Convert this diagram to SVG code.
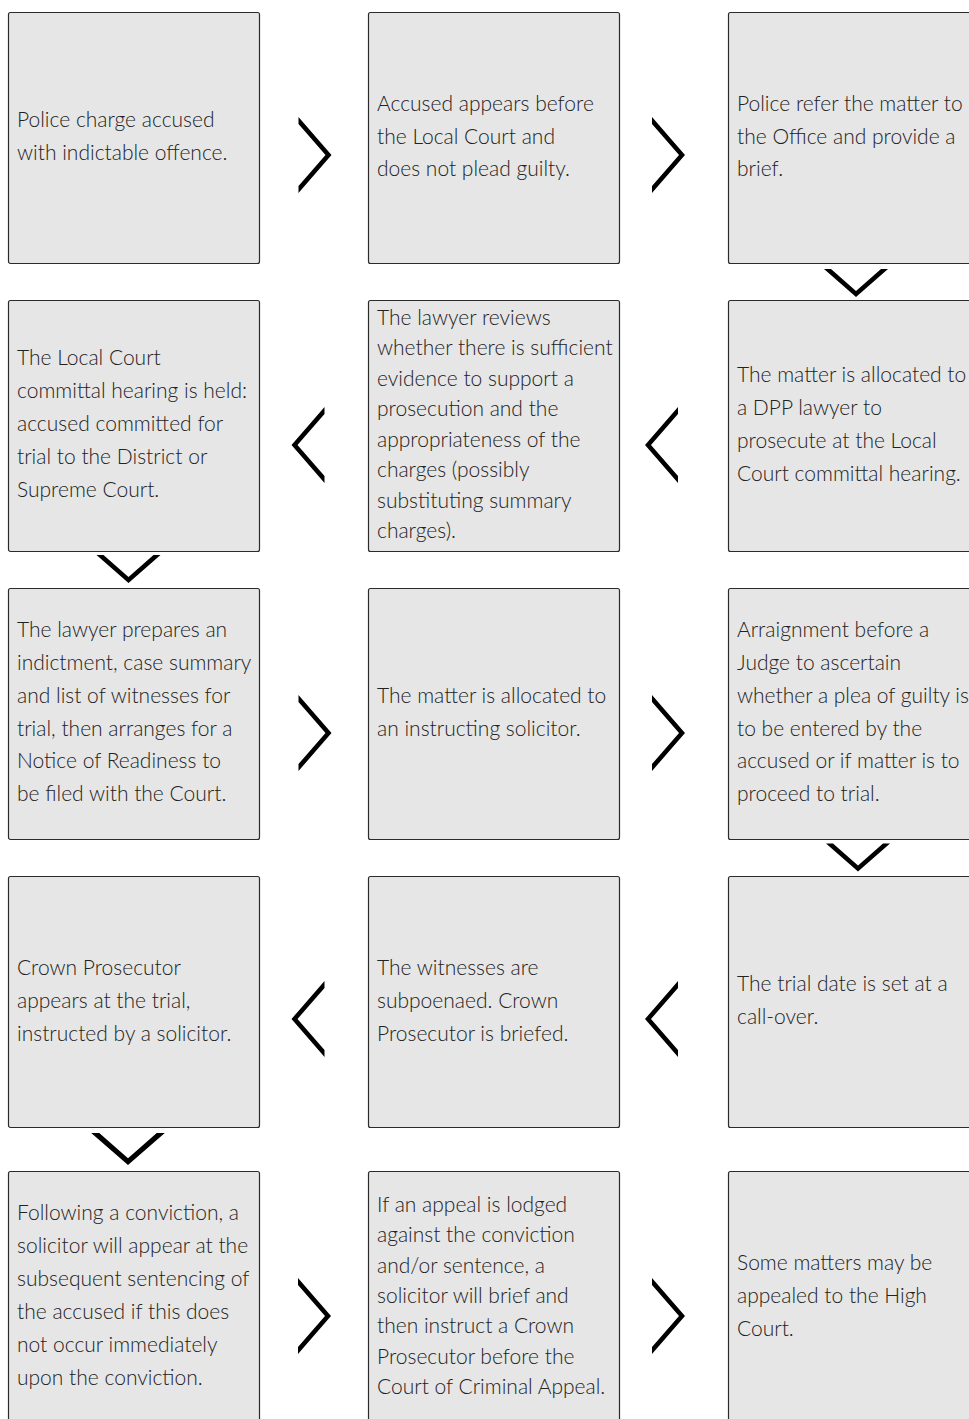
<svg xmlns="http://www.w3.org/2000/svg" width="969" height="1419" viewBox="0 0 969 1419">
<style>
.box{fill:#e6e6e6;stroke:#2b2b2b;stroke-width:1.2}
.t{font-family:Lato,"Open Sans","Liberation Sans",sans-serif;font-weight:300;font-size:21px;fill:#222}
.chev{fill:#000}
</style>
<defs>
<polygon id="right" points="-16,-38 17,0 -16,38 -16,31 11,0 -16,-31"/>
<polygon id="left" points="16,-38 -17,0 16,38 16,31 -11,0 16,-31"/>
<polygon id="down" points="-32,-14 -25,-14 0,8 25,-14 32,-14 0,14"/>
</defs>
<rect width="969" height="1419" fill="#fff"/>
<g id="n1"><rect class="box" x="8.5" y="12.5" width="251" height="251" rx="2"/>
<text class="t" x="17"><tspan x="17" y="127">Police charge accused</tspan><tspan x="17" y="160">with indictable offence.</tspan></text></g>
<g id="n2"><rect class="box" x="368.5" y="12.5" width="251" height="251" rx="2"/>
<text class="t"><tspan x="377" y="111">Accused appears before</tspan><tspan x="377" y="144">the Local Court and</tspan><tspan x="377" y="176">does not plead guilty.</tspan></text></g>
<g id="n3"><rect class="box" x="728.5" y="12.5" width="251" height="251" rx="2"/>
<text class="t"><tspan x="737" y="111">Police refer the matter to</tspan><tspan x="737" y="144">the Office and provide a</tspan><tspan x="737" y="176">brief.</tspan></text></g>
<g id="n4"><rect class="box" x="728.5" y="300.5" width="251" height="251" rx="2"/>
<text class="t"><tspan x="737" y="381.5">The matter is allocated to</tspan><tspan x="737" y="414.5">a DPP lawyer to</tspan><tspan x="737" y="447.5">prosecute at the Local</tspan><tspan x="737" y="480.5">Court committal hearing.</tspan></text></g>
<g id="n5"><rect class="box" x="368.5" y="300.5" width="251" height="251" rx="2"/>
<text class="t"><tspan x="377" y="324.5">The lawyer reviews</tspan><tspan x="377" y="355">whether there is sufficient</tspan><tspan x="377" y="385.5">evidence to support a</tspan><tspan x="377" y="416">prosecution and the</tspan><tspan x="377" y="446.5">appropriateness of the</tspan><tspan x="377" y="477">charges (possibly</tspan><tspan x="377" y="507.5">substituting summary</tspan><tspan x="377" y="538">charges).</tspan></text></g>
<g id="n6"><rect class="box" x="8.5" y="300.5" width="251" height="251" rx="2"/>
<text class="t"><tspan x="17" y="365">The Local Court</tspan><tspan x="17" y="398">committal hearing is held:</tspan><tspan x="17" y="431">accused committed for</tspan><tspan x="17" y="464">trial to the District or</tspan><tspan x="17" y="497">Supreme Court.</tspan></text></g>
<g id="n7"><rect class="box" x="8.5" y="588.5" width="251" height="251" rx="2"/>
<text class="t"><tspan x="17" y="637">The lawyer prepares an</tspan><tspan x="17" y="670">indictment, case summary</tspan><tspan x="17" y="702.5">and list of witnesses for</tspan><tspan x="17" y="735.5">trial, then arranges for a</tspan><tspan x="17" y="768">Notice of Readiness to</tspan><tspan x="17" y="801">be filed with the Court.</tspan></text></g>
<g id="n8"><rect class="box" x="368.5" y="588.5" width="251" height="251" rx="2"/>
<text class="t"><tspan x="377" y="702.5">The matter is allocated to</tspan><tspan x="377" y="735.5">an instructing solicitor.</tspan></text></g>
<g id="n9"><rect class="box" x="728.5" y="588.5" width="251" height="251" rx="2"/>
<text class="t"><tspan x="737" y="637">Arraignment before a</tspan><tspan x="737" y="670">Judge to ascertain</tspan><tspan x="737" y="702.5">whether a plea of guilty is</tspan><tspan x="737" y="735.5">to be entered by the</tspan><tspan x="737" y="768">accused or if matter is to</tspan><tspan x="737" y="801">proceed to trial.</tspan></text></g>
<g id="n10"><rect class="box" x="728.5" y="876.5" width="251" height="251" rx="2"/>
<text class="t"><tspan x="737" y="991">The trial date is set at a</tspan><tspan x="737" y="1024">call-over.</tspan></text></g>
<g id="n11"><rect class="box" x="368.5" y="876.5" width="251" height="251" rx="2"/>
<text class="t"><tspan x="377" y="975">The witnesses are</tspan><tspan x="377" y="1008">subpoenaed. Crown</tspan><tspan x="377" y="1041">Prosecutor is briefed.</tspan></text></g>
<g id="n12"><rect class="box" x="8.5" y="876.5" width="251" height="251" rx="2"/>
<text class="t"><tspan x="17" y="975">Crown Prosecutor</tspan><tspan x="17" y="1008">appears at the trial,</tspan><tspan x="17" y="1041">instructed by a solicitor.</tspan></text></g>
<g id="n13"><rect class="box" x="8.5" y="1171.5" width="251" height="251" rx="2"/>
<text class="t"><tspan x="17" y="1220">Following a conviction, a</tspan><tspan x="17" y="1253">solicitor will appear at the</tspan><tspan x="17" y="1286">subsequent sentencing of</tspan><tspan x="17" y="1319">the accused if this does</tspan><tspan x="17" y="1352">not occur immediately</tspan><tspan x="17" y="1385">upon the conviction.</tspan></text></g>
<g id="n14"><rect class="box" x="368.5" y="1171.5" width="251" height="251" rx="2"/>
<text class="t"><tspan x="377" y="1212">If an appeal is lodged</tspan><tspan x="377" y="1242.3">against the conviction</tspan><tspan x="377" y="1272.6">and/or sentence, a</tspan><tspan x="377" y="1302.9">solicitor will brief and</tspan><tspan x="377" y="1333.2">then instruct a Crown</tspan><tspan x="377" y="1363.5">Prosecutor before the</tspan><tspan x="377" y="1393.8">Court of Criminal Appeal.</tspan></text></g>
<g id="n15"><rect class="box" x="728.5" y="1171.5" width="251" height="251" rx="2"/>
<text class="t"><tspan x="737" y="1270">Some matters may be</tspan><tspan x="737" y="1303">appealed to the High</tspan><tspan x="737" y="1336">Court.</tspan></text></g>
<g id="connectors" class="chev">
<use href="#right" x="314.5" y="155"/>
<use href="#right" x="668" y="155"/>
<use href="#down" x="856" y="283"/>
<use href="#left" x="662" y="445"/>
<use href="#left" x="308.5" y="445"/>
<use href="#down" x="128.5" y="569"/>
<use href="#right" x="314.5" y="733"/>
<use href="#right" x="668" y="733"/>
<use href="#down" x="858" y="857.5"/>
<use href="#left" x="662" y="1019"/>
<use href="#left" x="308.5" y="1019"/>
<use href="#down" x="128" y="1149" transform="translate(128 1149) scale(1.15) translate(-128 -1149)"/>
<use href="#right" x="314" y="1316"/>
<use href="#right" x="668" y="1316"/>
</g>
</svg>
